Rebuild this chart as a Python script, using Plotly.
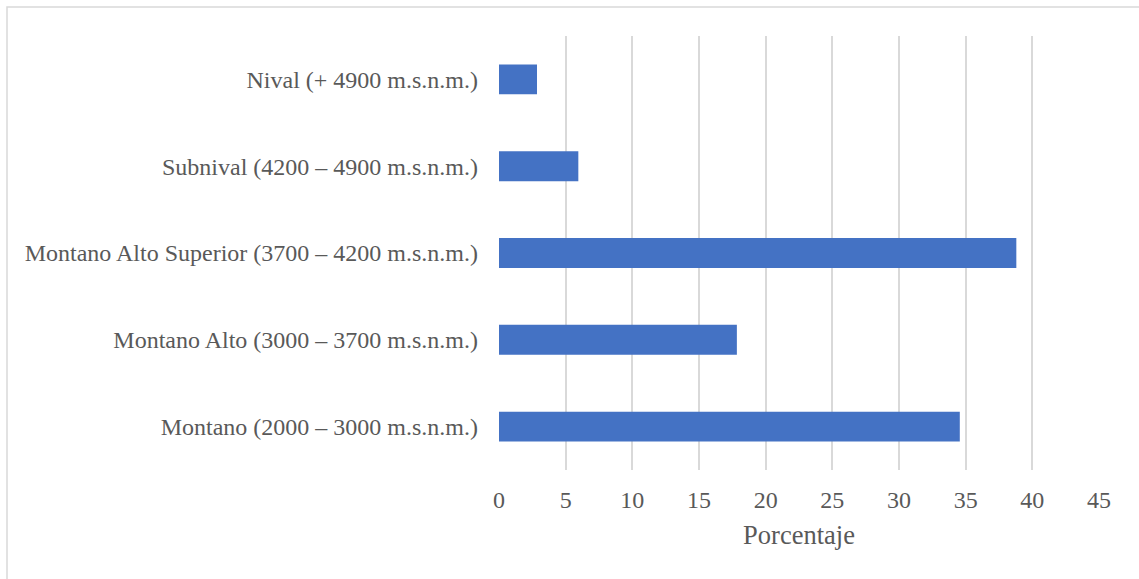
import plotly.graph_objects as go

categories = [
    "Montano (2000 – 3000 m.s.n.m.)",
    "Montano Alto (3000 – 3700 m.s.n.m.)",
    "Montano Alto Superior (3700 – 4200 m.s.n.m.)",
    "Subnival (4200 – 4900 m.s.n.m.)",
    "Nival (+ 4900 m.s.n.m.)",
]
values = [34.56, 17.84, 38.8, 5.95, 2.85]
x_ticks = [0, 5, 10, 15, 20, 25, 30, 35, 40, 45]

font_family = "Liberation Serif, Times New Roman, serif"
text_color = "#595959"

fig = go.Figure(
    go.Bar(
        x=values,
        y=categories,
        orientation="h",
        marker=dict(color="#4472C4", line=dict(width=0)),
    )
)

fig.update_layout(
    width=1139,
    height=579,
    margin=dict(l=499, r=40, t=36, b=109),
    paper_bgcolor="white",
    plot_bgcolor="white",
    bargap=0.655,
    showlegend=False,
    font=dict(family=font_family, color=text_color, size=24),
    xaxis=dict(
        range=[0, 45],
        tickvals=x_ticks,
        showgrid=True,
        gridcolor="#d9d9d9",
        gridwidth=1.5,
        zeroline=False,
        showline=False,
        ticks="",
        ticklabelstandoff=13,
        tickfont=dict(size=24, color=text_color, family=font_family),
        title=dict(text="Porcentaje", font=dict(size=26.5, color=text_color, family=font_family), standoff=13),
    ),
    yaxis=dict(
        categoryorder="array",
        categoryarray=categories,
        showgrid=False,
        zeroline=False,
        showline=False,
        ticks="",
        ticklabelstandoff=20,
        tickfont=dict(size=24, color=text_color, family=font_family),
    ),
    shapes=[
        dict(
            type="rect",
            xref="paper",
            yref="paper",
            x0=-0.82,
            x1=1.1,
            y0=-0.3,
            y1=1.0668,
            line=dict(color="#d9d9d9", width=1.5),
            fillcolor="rgba(0,0,0,0)",
            layer="below",
        )
    ],
)

fig.write_html("out.html")
